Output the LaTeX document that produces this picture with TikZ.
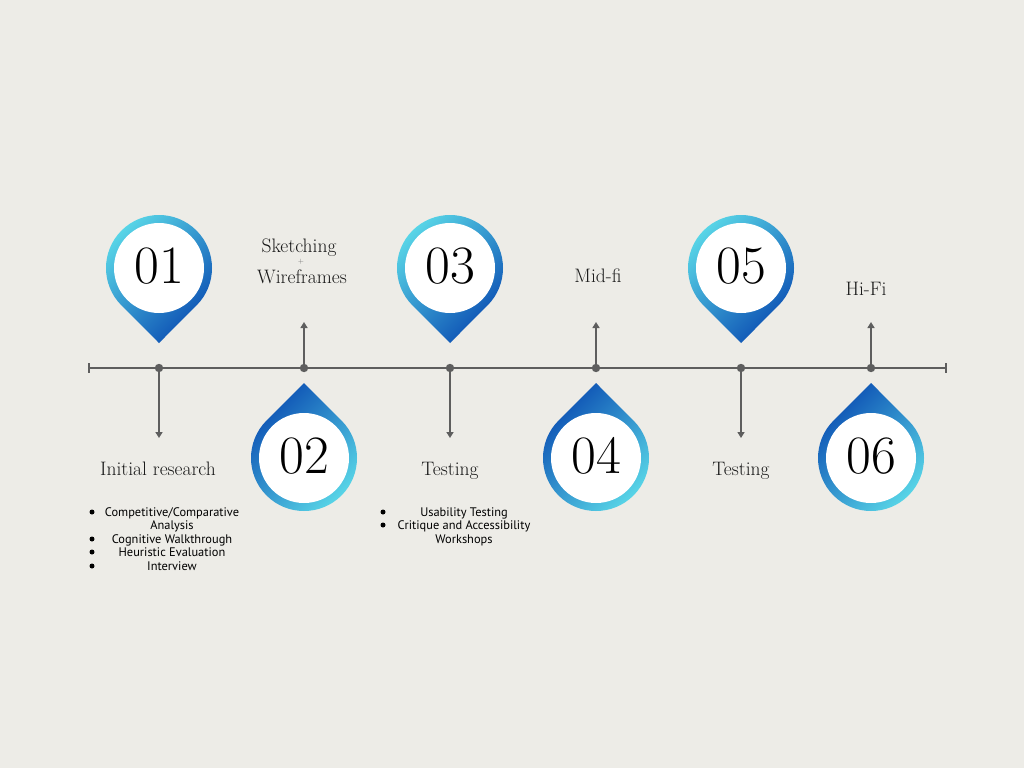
\documentclass[tikz,border=0pt]{standalone}
\usepackage{fontspec}
\newfontfamily\listfont{PT Sans}
\usetikzlibrary{arrows.meta,calc}
\definecolor{bg}{HTML}{EDECE7}
\definecolor{ln}{HTML}{5E5E5E}
\definecolor{lightc}{HTML}{5AD8E8}
\definecolor{darkb}{HTML}{0A4CB2}
\newcommand\PinDown[3]{%
  \shade[top color=lightc, bottom color=darkb, shading angle=45]
    (#1,-#2-75) -- ($(#1,-#2)+(-45:53)$) arc[start angle=-45,end angle=225,radius=53] -- cycle;
  \fill[white] (#1,-#2) circle[radius=45];
  \node[num] (n#3) at (#1,-#2-15) {#3};
}
\newcommand\PinUp[3]{%
  \shade[top color=darkb, bottom color=lightc, shading angle=45]
    (#1,-#2+75) -- ($(#1,-#2)+(135:53)$) arc[start angle=135,end angle=405,radius=53] -- cycle;
  \fill[white] (#1,-#2) circle[radius=45];
  \node[num] (n#3) at (#1,-#2-15) {#3};
}
\begin{document}
\begin{tikzpicture}[x=1pt,y=1pt,
  title/.style={font=\fontsize{19.5}{19.5}\selectfont, text=black!90, anchor=base, inner sep=0pt},
  num/.style={font=\fontsize{54}{54}\selectfont, text=black, anchor=base, inner sep=0pt},
  item/.style={font=\listfont\fontsize{12.4}{12.4}\selectfont, text=black, anchor=base, inner sep=0pt},
  conn/.style={draw=ln, line width=2pt, -{Triangle[length=6pt,width=7pt]}},
  dotc/.style={fill=ln},
  bul/.style={fill=black},
]
\fill[bg] (0,0) rectangle (1024,-768);
\useasboundingbox (0,0) rectangle (1024,-768);

% pins
\PinDown{159}{268}{01}
\PinUp{304}{458}{02}
\PinDown{450}{268}{03}
\PinUp{596}{458}{04}
\PinDown{741}{268}{05}
\PinUp{871}{458}{06}

% timeline
\coordinate (L) at (89,-368);
\coordinate (R) at (946,-368);
\draw[ln, line width=2pt] (L) -- (R);
\draw[ln, line width=1.5pt] ($(L)+(0,5)$) -- ($(L)+(0,-5)$);
\draw[ln, line width=1.5pt] ($(R)+(0,5)$) -- ($(R)+(0,-5)$);

\coordinate (d1) at (159,-368); \coordinate (e1) at (159,-438);
\coordinate (d2) at (304,-368); \coordinate (e2) at (304,-322);
\coordinate (d3) at (450,-368); \coordinate (e3) at (450,-438);
\coordinate (d4) at (596,-368); \coordinate (e4) at (596,-322);
\coordinate (d5) at (741,-368); \coordinate (e5) at (741,-438);
\coordinate (d6) at (871,-368); \coordinate (e6) at (871,-322);
\foreach \i in {1,...,6}{
  \draw[conn] (d\i) -- (e\i);
  \fill[dotc] (d\i) circle[radius=4.2];
}

% titles
\node[title] (t1) at (158,-475) {Initial research};
\node[title] (t2a) at (299,-252) {Sketching};
\node[font=\fontsize{7}{7}\selectfont, text=black!55, inner sep=0pt] (t2b) at (301,-262) {+};
\node[title] (t2c) at (302,-283) {Wireframes};
\node[title] (t3) at (450,-475) {Testing};
\node[title] (t4) at (598,-282) {Mid-fi};
\node[title] (t5) at (741,-475) {Testing};
\node[title] (t6) at (866,-295) {Hi-Fi};

% list 1
\node[item] (a1) at (172,-516) {Competitive/Comparative};
\node[item] (a2) at (172,-529) {Analysis};
\node[item] (a3) at (172,-543) {Cognitive Walkthrough};
\node[item] (a4) at (172,-556) {Heuristic Evaluation};
\node[item] (a5) at (172,-570) {Interview};
\foreach \y in {-512,-539,-552,-566}{\fill[bul] (92,\y) circle[radius=2.5];}

% list 2
\node[item] (b1) at (464,-516) {Usability Testing};
\node[item] (b2) at (464,-529) {Critique and Accessibility};
\node[item] (b3) at (464,-543) {Workshops};
\foreach \y in {-512,-525}{\fill[bul] (383,\y) circle[radius=2.5];}
\end{tikzpicture}
\end{document}
